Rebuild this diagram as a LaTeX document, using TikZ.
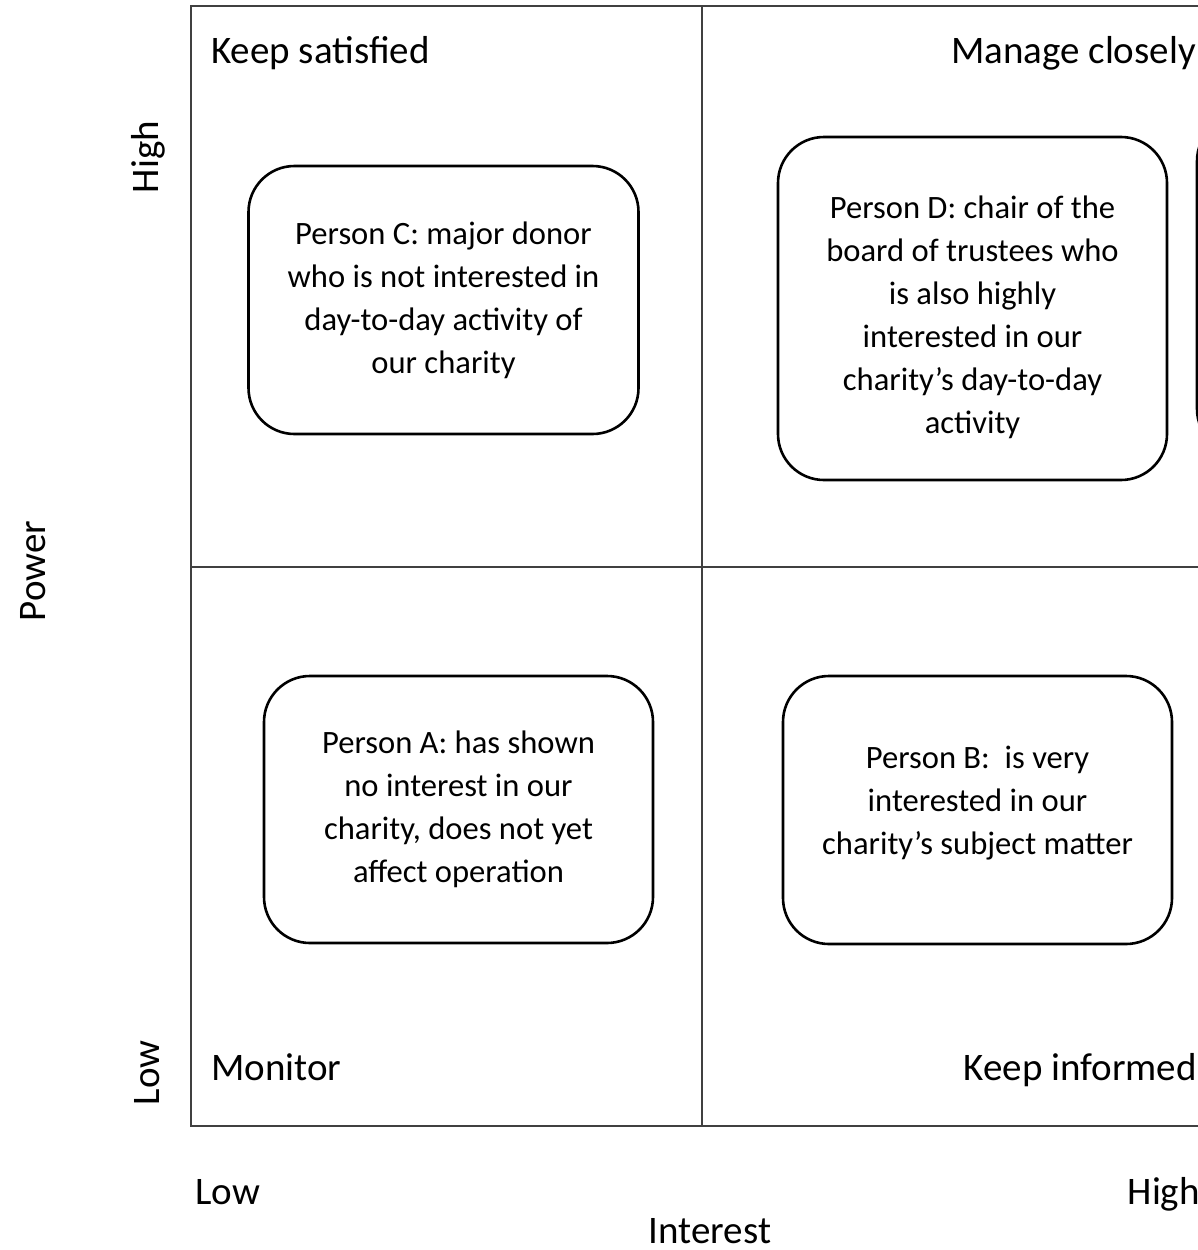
\documentclass[tikz,border=0pt]{standalone}
\usepackage{fontspec}
\setmainfont{Carlito}
\begin{document}
\begin{tikzpicture}[x=1pt,y=-1pt,
  gridline/.style={draw=black!75, line width=1.3pt},
  card/.style={draw=black, line width=2.6pt, rounded corners=46pt, inner sep=0pt},
  cardtext/.style={align=center, font=\fontsize{32.6}{43}\selectfont, inner sep=0pt},
  heading/.style={font=\fontsize{39}{44}\selectfont, inner sep=0pt},
  axislabel/.style={font=\fontsize{39}{44}\selectfont, inner sep=0pt}]
\useasboundingbox (0,0) rectangle (1198,1250);
\clip (0,0) rectangle (1198,1250);
\fill[white] (0,0) rectangle (1198,1250);
% grid
\coordinate (tl) at (191,6);
\coordinate (bl) at (191,1126);
\coordinate (tm) at (702,6);
\coordinate (bm) at (702,1126);
\coordinate (ml) at (191,567);
\coordinate (tr) at (1210,6);
\coordinate (br) at (1210,1126);
\coordinate (mr) at (1210,567);
\draw[gridline] (tr) -- (tl) -- (bl) -- (br);
\draw[gridline] (tm) -- (bm);
\draw[gridline] (ml) -- (mr);
% quadrant headings
\node[heading, anchor=base west] (ks) at (211,63) {Keep satisfied};
\node[heading, anchor=base east] (mc) at (1196,63) {Manage closely};
\node[heading, anchor=base west] (mon) at (211,1080) {Monitor};
\node[heading, anchor=base east] (ki) at (1197,1080) {Keep informed};
% axis labels
\node[axislabel, rotate=90, anchor=base] (phigh) at (158,157) {High};
\node[axislabel, rotate=90, anchor=base] (plow) at (159,1073) {Low};
\node[axislabel, rotate=90, anchor=base] (power) at (45,571) {Power};
\node[axislabel, anchor=base west] (ilow) at (195,1204) {Low};
\node[axislabel, anchor=base east] (ihigh) at (1200,1204) {High};
\node[axislabel, anchor=base] (interest) at (710,1243) {Interest};
% cards
\draw[line width=2.6pt, rounded corners=46pt] (1197,115) rectangle (1590,455);
\node[card, minimum width=390pt, minimum height=268pt] (C) at (443.5,300) {};
\node[cardtext] (Ct) at (443.5,300)
  {Person C: major donor\\who is not interested in\\day-to-day activity of\\our charity};
\node[card, minimum width=389pt, minimum height=343pt] (D) at (972.5,308.5) {};
\node[cardtext] (Dt) at (972.5,317.5)
  {Person D: chair of the\\board of trustees who\\is also highly\\interested in our\\charity’s day-to-day\\activity};
\node[card, minimum width=389pt, minimum height=267pt] (A) at (458.5,809.5) {};
\node[cardtext] (At) at (458.5,809.5)
  {Person A: has shown\\no interest in our\\charity, does not yet\\affect operation};
\node[card, minimum width=389pt, minimum height=268pt] (B) at (977.5,810) {};
\node[cardtext] (Bt) at (977.5,803)
  {Person B:\ \ is very\\interested in our\\charity’s subject matter};
\end{tikzpicture}
\end{document}
